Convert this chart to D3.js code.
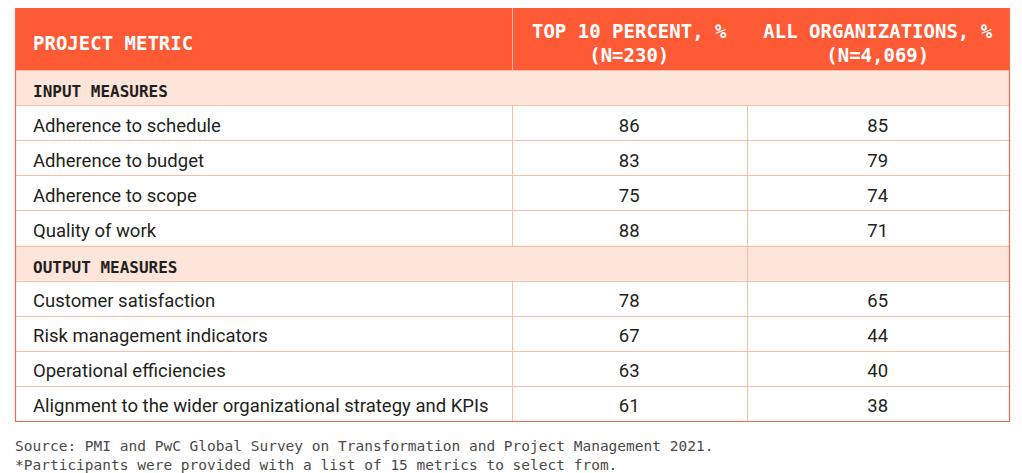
<!DOCTYPE html>
<html><head><meta charset="utf-8">
<script src="https://cdn.jsdelivr.net/npm/d3@7"></script>
<style>html,body{margin:0;padding:0;background:#fff;}svg{display:block;}</style>
</head><body>
<svg id="chart" width="1022" height="473"></svg>
<script>
const columns = ["PROJECT METRIC", "TOP 10 PERCENT, %|(N=230)", "ALL ORGANIZATIONS, %|(N=4,069)"];
const sections = ["INPUT MEASURES", "OUTPUT MEASURES"];
const inputMetrics = ["Adherence to schedule", "Adherence to budget", "Adherence to scope", "Quality of work"];
const inputTop10 = [86, 83, 75, 88];
const inputAll = [85, 79, 74, 71];
const outputMetrics = ["Customer satisfaction", "Risk management indicators", "Operational efficiencies", "Alignment to the wider organizational strategy and KPIs"];
const outputTop10 = [78, 67, 63, 61];
const outputAll = [65, 44, 40, 38];
const notes = ["Source: PMI and PwC Global Survey on Transformation and Project Management 2021.", "*Participants were provided with a list of 15 metrics to select from."];

(function () {
const rows = [];
rows.push({type: "section", label: sections[0]});
inputMetrics.forEach((m, i) => rows.push({type: "data", label: m, a: inputTop10[i], b: inputAll[i]}));
rows.push({type: "section", label: sections[1]});
outputMetrics.forEach((m, i) => rows.push({type: "data", label: m, a: outputTop10[i], b: outputAll[i]}));

const svg = d3.select("#chart");
const L = 15, R = 1009, T = 8, headerBottom = 70, B = 421;
const colEdges = [L, 512, 746.5, R];
const y = d3.scaleBand().domain(d3.range(rows.length)).range([headerBottom, B]);

const headerColor = "#FF5A36", sectionFill = "#FEE5DA", gridColor = "#F8BFA6", outerColor = "#F26B4B";
const mono = "'DejaVu Sans Mono', monospace";
const sans = "Roboto, 'Liberation Sans', sans-serif";

svg.append("rect").attr("x", L).attr("y", T).attr("width", R - L).attr("height", headerBottom - T).attr("fill", headerColor);
svg.append("line").attr("x1", colEdges[1] + 0.5).attr("x2", colEdges[1] + 0.5).attr("y1", T).attr("y2", headerBottom).attr("stroke", "#FFB9A3").attr("stroke-width", 1);

const g = svg.append("g");
rows.forEach((r, i) => {
  if (r.type === "section") {
    g.append("rect").attr("x", L).attr("y", y(i)).attr("width", R - L).attr("height", y.bandwidth()).attr("fill", sectionFill);
  }
});
rows.forEach((r, i) => {
  const yy = Math.round(y(i)) + 0.5;
  g.append("line").attr("x1", L).attr("x2", R).attr("y1", yy).attr("y2", yy).attr("stroke", gridColor).attr("stroke-width", 1);
});
rows.forEach((r, i) => {
  const y0 = y(i), y1 = y0 + y.bandwidth();
  const xs = r.type === "section" ? (i === 0 ? [] : [colEdges[2]]) : [colEdges[1], colEdges[2]];
  xs.forEach(x => g.append("line").attr("x1", Math.round(x) + 0.5).attr("x2", Math.round(x) + 0.5).attr("y1", y0).attr("y2", y1).attr("stroke", gridColor).attr("stroke-width", 1));
});
svg.append("path").attr("d", `M${L + 0.5},${T} V${B + 0.5} H${R + 0.5} V${T}`).attr("fill", "none").attr("stroke", outerColor).attr("stroke-width", 1.2);

function headText(x, yb, txt, anchor) {
  svg.append("text").attr("transform", `translate(${x},${yb}) scale(0.975,1)`).attr("text-anchor", anchor)
    .attr("font-family", mono).attr("font-weight", "bold").attr("font-size", 19.5).attr("fill", "#fff").text(txt);
}
headText(33, 50, columns[0], "start");
[1, 2].forEach(c => {
  const cx = (colEdges[c] + colEdges[c + 1]) / 2;
  columns[c].split("|").forEach((p, k) => headText(cx, 37.5 + k * 24, p, "middle"));
});

rows.forEach((r, i) => {
  const y0 = y(i);
  if (r.type === "section") {
    svg.append("text").attr("x", 33).attr("y", y0 + 27).attr("font-family", mono).attr("font-weight", "bold").attr("font-size", 16).attr("fill", "#231F20").text(r.label);
  } else {
    svg.append("text").attr("x", 33).attr("y", y0 + 26.5).attr("font-family", sans).attr("font-size", 18.5).attr("fill", "#231F20").text(r.label);
    [r.a, r.b].forEach((v, k) => {
      const cx = (colEdges[k + 1] + colEdges[k + 2]) / 2;
      svg.append("text").attr("x", cx).attr("y", y0 + 26.5).attr("text-anchor", "middle").attr("font-family", sans).attr("font-size", 18.5).attr("fill", "#231F20").text(v);
    });
  }
});

notes.forEach((n, k) => svg.append("text").attr("x", 15).attr("y", 450.5 + k * 19.5).attr("font-family", mono).attr("font-size", 14.5).attr("fill", "#4a4a4a").text(n));
})();
</script>
</body></html>
